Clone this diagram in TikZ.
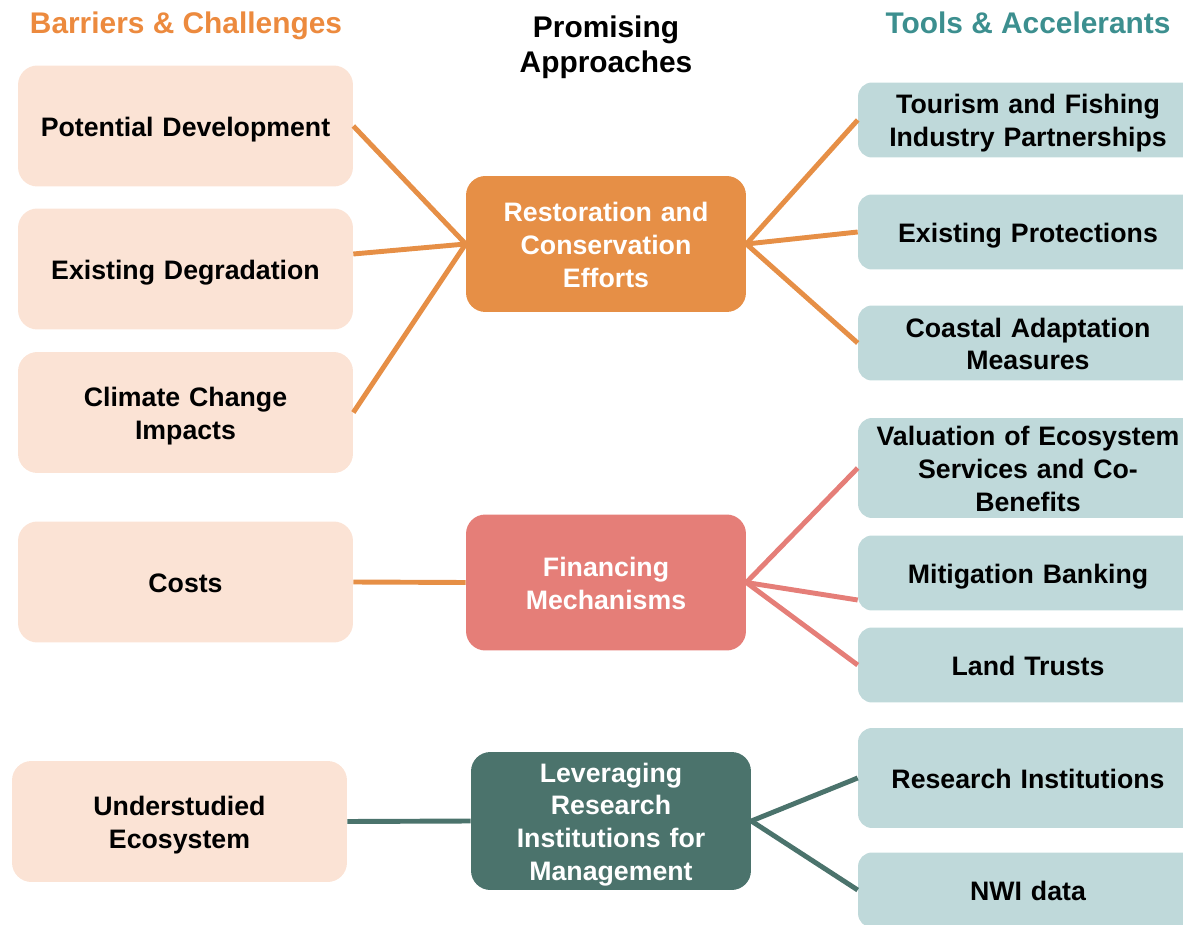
\documentclass[tikz,border=0pt]{standalone}
\usepackage{fontspec}
\setmainfont{Liberation Sans}
\usetikzlibrary{calc}
\definecolor{barfill}{HTML}{FBE3D5}
\definecolor{toolfill}{HTML}{BFD9DA}
\definecolor{restorange}{HTML}{E68F46}
\definecolor{finred}{HTML}{E57E78}
\definecolor{resgreen}{HTML}{4B736C}
\definecolor{headorange}{HTML}{EC8A3E}
\definecolor{headteal}{HTML}{3C8F8F}
\newcommand{\boxstrut}{\rule[-3pt]{0pt}{18pt}}
\begin{document}
\begin{tikzpicture}[x=0.02cm,y=-0.02cm,
	every node/.style={font=\fontsize{15.2}{18.7}\selectfont\bfseries,align=center,inner sep=0pt,
		execute at begin node=\boxstrut,execute at end node=\boxstrut},
	barbox/.style={fill=barfill,rounded corners=11pt,text width=6.4cm,minimum width=6.7cm,minimum height=2.42cm},
	appbox/.style={fill=#1,text=white,rounded corners=11pt,text width=5.2cm,minimum width=5.6cm,minimum height=2.72cm},
	toolbox/.style={fill=toolfill,rounded corners=8pt,text width=6.5cm,minimum width=6.8cm,minimum height=#1},
	toolbox/.default=1.5cm,
	link/.style={line width=2.8pt,draw=#1},
	head/.style={font=\fontsize{17}{20}\selectfont\bfseries}]
	\useasboundingbox (0,0) rectangle (1183,925);
	\node[head,text=headorange] (barhead) at (186,23) {Barriers \& Challenges};
	\node[head] (apphead) at (606,47) {Promising\\Approaches};
	\node[head,text=headteal] (toolhead) at (1028,23) {Tools \& Accelerants};
	\node[barbox] (potdev) at (185.5,126) {Potential Development};
	\node[barbox] (exdeg) at (185.5,269) {Existing Degradation};
	\node[barbox] (climate) at (185.5,412.5) {Climate Change\\Impacts};
	\node[barbox] (costs) at (185.5,582) {Costs};
	\node[barbox] (understudied) at (179.5,821.5) {Understudied\\Ecosystem};
	\node[appbox=restorange] (restore) at (606,244) {Restoration and\\Conservation\\Efforts};
	\node[appbox=finred] (finance) at (606,582.5) {Financing\\Mechanisms};
	\node[appbox=resgreen,minimum height=2.76cm] (leverage) at (611,821) {Leveraging\\Research\\Institutions for\\Management};
	\node[toolbox] (tourism) at (1028,120) {Tourism and Fishing\\Industry Partnerships};
	\node[toolbox] (protect) at (1028,232) {Existing Protections};
	\node[toolbox] (coastal) at (1028,343) {Coastal Adaptation\\Measures};
	\node[toolbox=2cm] (valuation) at (1028,468) {Valuation of Ecosystem\\Services and Co-\\Benefits};
	\node[toolbox] (banking) at (1028,573) {Mitigation Banking};
	\node[toolbox] (trusts) at (1028,665) {Land Trusts};
	\node[toolbox=2cm] (research) at (1028,778) {Research Institutions};
	\node[toolbox] (nwi) at (1028,890) {NWI data};
	\draw[link=restorange] (potdev.east) -- (restore.west);
	\draw[link=restorange] ($(exdeg.east)+(0,-15)$) -- (restore.west);
	\draw[link=restorange] (climate.east) -- (restore.west);
	\draw[link=restorange] (restore.east) -- (tourism.west);
	\draw[link=restorange] (restore.east) -- (protect.west);
	\draw[link=restorange] (restore.east) -- (coastal.west);
	\draw[link=restorange] (costs.east) -- (finance.west);
	\draw[link=finred] (finance.east) -- (valuation.west);
	\draw[link=finred] (finance.east) -- ($(banking.west)+(0,27)$);
	\draw[link=finred] (finance.east) -- (trusts.west);
	\draw[link=resgreen] (understudied.east) -- (leverage.west);
	\draw[link=resgreen] (leverage.east) -- (research.west);
	\draw[link=resgreen] (leverage.east) -- (nwi.west);
\end{tikzpicture}
\end{document}
